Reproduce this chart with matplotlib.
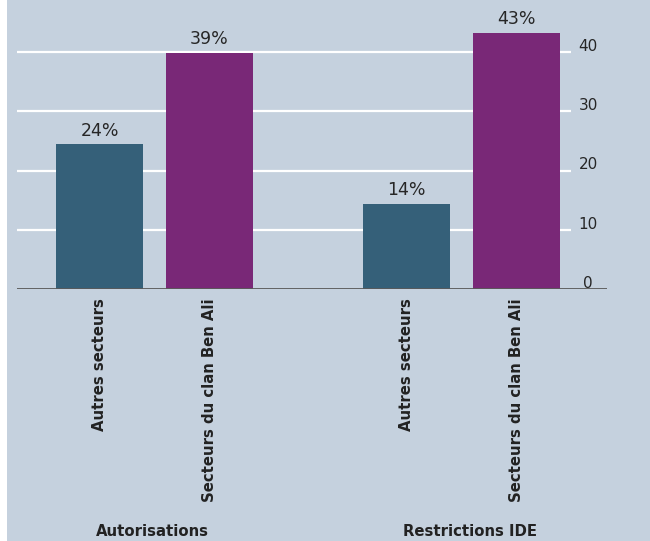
import numpy as np
import matplotlib.pyplot as plt
from matplotlib.patches import Rectangle
import matplotlib.transforms as mtransforms

# Data
groups = ["Autorisations", "Restrictions IDE"]
sectors = ["Autres secteurs", "Secteurs du clan Ben Ali"]
autres = [24.4, 14.4]
ben_ali = [39.9, 43.2]
value_labels = [["24%", "39%"], ["14%", "43%"]]
yticks = [0, 10, 20, 30, 40]

bg = "#c5d1de"
col_autres = "#356079"
col_benali = "#792877"
txt = "#262626"

W, H = 650, 541
fig = plt.figure(figsize=(W / 100, H / 100), dpi=100, facecolor=bg)
# thin white strip on the left edge
fig.patches.append(Rectangle((0, 0), 7 / W, 1, transform=fig.transFigure,
                             facecolor="white", edgecolor="none", zorder=-1))

# axes spans from x=17px to 607px, baseline at y=289px
ax = fig.add_axes([17 / W, (H - 289) / H, 590 / W, 289 / H])
ax.set_facecolor("none")
ymax = 289 / 5.925
ax.set_ylim(0, ymax)

gap = 307.0          # px between group centres
left0 = (154.5 - 17) / gap
ax.set_xlim(-left0, -left0 + 590 / gap)
off = 55 / gap
width = 87 / gap
x = np.arange(len(groups))

grid_end = -left0 + (571 - 17) / gap
ax.hlines(yticks[1:], -left0, grid_end, colors="white", lw=1.6, zorder=1)

b1 = ax.bar(x - off, autres, width, color=col_autres, zorder=2)
b2 = ax.bar(x + off, ben_ali, width, color=col_benali, zorder=2)

for i in range(len(groups)):
    for j, bars in enumerate([b1, b2]):
        r = bars[i]
        ax.annotate(value_labels[i][j], (r.get_x() + r.get_width() / 2, r.get_height()),
                    xytext=(0, 3.5), textcoords="offset points", ha="center", va="bottom",
                    fontsize=12.5, color=txt, annotation_clip=False)

# y tick labels on the right
tick_x = -left0 + (588 - 17) / gap
for t in yticks:
    ax.annotate(str(t), (tick_x, t), xytext=(0, 4), textcoords="offset points",
                ha="center", va="center", fontsize=11, color=txt, annotation_clip=False)

ax.axhline(0, color="#5a5a5a", lw=1.3, zorder=3)
for s in ax.spines.values():
    s.set_visible(False)
ax.set_xticks([])
ax.set_yticks([])

# rotated sector labels under each bar, group names left-aligned inside group
trans = mtransforms.blended_transform_factory(ax.transData, fig.transFigure)
for i in range(len(groups)):
    for j, xx in enumerate([x[i] - off, x[i] + off]):
        ax.text(xx, (H - 298) / H, sectors[j], transform=trans, rotation=90,
                ha="center", va="top", fontsize=10.75, fontweight="bold", color="#222222")
    gx = x[i] - off - width / 2 + 40 / gap
    ax.text(gx, (H - 531) / H, groups[i], transform=trans, ha="left", va="center",
            fontsize=10.75, fontweight="bold", color="#222222")

fig.savefig("out.png", dpi=100, facecolor=fig.get_facecolor())
